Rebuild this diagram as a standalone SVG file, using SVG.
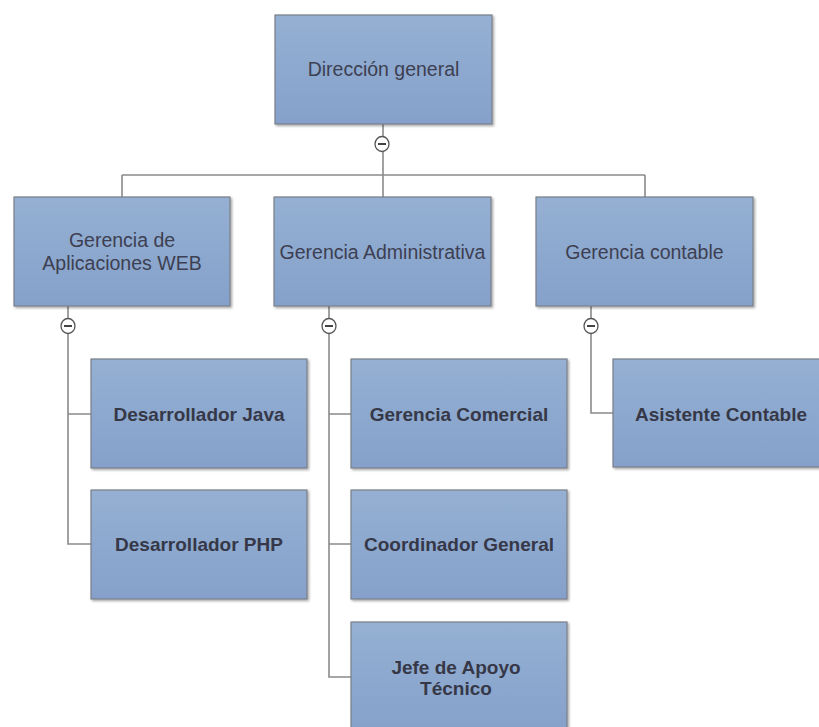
<svg xmlns="http://www.w3.org/2000/svg" width="819" height="727" viewBox="0 0 819 727">
<defs>
<linearGradient id="g" x1="0" y1="0" x2="0" y2="1">
<stop offset="0" stop-color="#95b0d2"/>
<stop offset="1" stop-color="#85a1cb"/>
</linearGradient>
<filter id="sh" x="-5%" y="-5%" width="115%" height="115%">
<feDropShadow dx="1.5" dy="1.5" stdDeviation="1" flood-color="#000" flood-opacity="0.35"/>
</filter>
</defs>
<style>
.box{fill:url(#g);stroke:#7b7f88;stroke-width:1.2;filter:url(#sh)}
.t{font-family:"Liberation Sans",Arial,sans-serif;font-size:19.5px;fill:#3d3f52;text-anchor:middle}
.b{font-family:"Liberation Sans",Arial,sans-serif;font-size:19px;font-weight:bold;fill:#363848;text-anchor:middle}
.ln{fill:none;stroke:#8a8a8a;stroke-width:1.6}
.tg{fill:#fff;stroke:#555;stroke-width:1.3}
.tm{stroke:#444;stroke-width:2}
</style>
<rect width="819" height="727" fill="#fff"/>
<g id="connectors">
<path class="ln" d="M383 124 V175 M122 175 H645 M122 175 V197 M383 175 V197 M645 175 V197"/>
<path class="ln" d="M68 306 V544 H91 M68 414 H91"/>
<path class="ln" d="M329 306 V677 H351 M329 414 H351 M329 544 H351"/>
<path class="ln" d="M591 306 V413 H613"/>
<g>
<ellipse class="tg" cx="382" cy="144" rx="7" ry="7.5"/><line class="tm" x1="378" y1="144" x2="386" y2="144"/>
<ellipse class="tg" cx="68" cy="326" rx="7" ry="7.5"/><line class="tm" x1="64" y1="326" x2="72" y2="326"/>
<ellipse class="tg" cx="329" cy="326" rx="7" ry="7.5"/><line class="tm" x1="325" y1="326" x2="333" y2="326"/>
<ellipse class="tg" cx="591" cy="326" rx="7" ry="7.5"/><line class="tm" x1="587" y1="326" x2="595" y2="326"/>
</g>
</g>
<g id="n-direccion"><rect class="box" x="275" y="15" width="217" height="109"/><text class="t" x="383.5" y="76">Dirección general</text></g>
<g id="n-web"><rect class="box" x="14" y="197" width="216" height="109"/><text class="t" x="122" y="247">Gerencia de</text><text class="t" x="122" y="270">Aplicaciones WEB</text></g>
<g id="n-admin"><rect class="box" x="274" y="197" width="217" height="109"/><text class="t" x="382.5" y="259">Gerencia Administrativa</text></g>
<g id="n-contable"><rect class="box" x="536" y="197" width="217" height="109"/><text class="t" x="644.5" y="259">Gerencia contable</text></g>
<g id="n-java"><rect class="box" x="91" y="359" width="216" height="109"/><text class="b" x="199" y="421">Desarrollador Java</text></g>
<g id="n-php"><rect class="box" x="91" y="490" width="216" height="109"/><text class="b" x="199" y="551">Desarrollador PHP</text></g>
<g id="n-comercial"><rect class="box" x="351" y="359" width="216" height="109"/><text class="b" x="459" y="421">Gerencia Comercial</text></g>
<g id="n-coordinador"><rect class="box" x="351" y="490" width="216" height="109"/><text class="b" x="459" y="551">Coordinador General</text></g>
<g id="n-jefe"><rect class="box" x="351" y="622" width="216" height="109"/><text class="b" x="456" y="674">Jefe de Apoyo</text><text class="b" x="456" y="695">Técnico</text></g>
<g id="n-asistente"><rect class="box" x="613" y="359" width="217" height="108"/><text class="b" x="721" y="421">Asistente Contable</text></g>
</svg>
